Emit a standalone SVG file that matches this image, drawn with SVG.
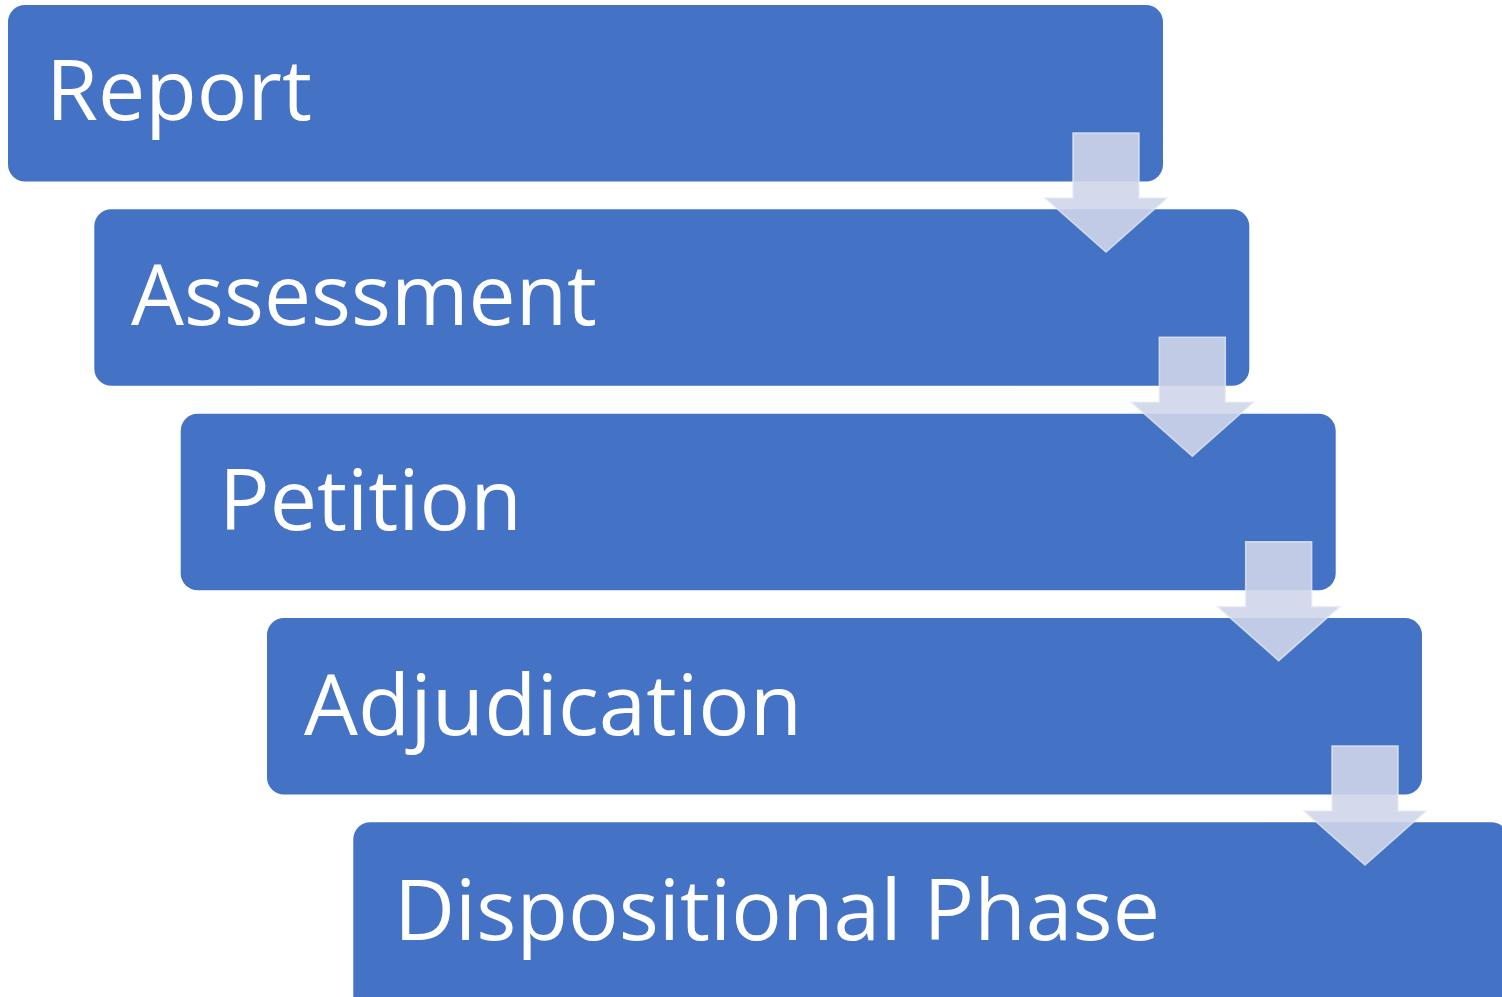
<svg xmlns="http://www.w3.org/2000/svg" width="1502" height="997" viewBox="0 0 1502 997">
<style>
.box{fill:#4472C4;}
.lbl{fill:#FFFFFF;font-family:"Open Sans","Noto Sans","Liberation Sans",sans-serif;font-size:84px;}
.arr{fill:#CFD5EA;fill-opacity:0.9;stroke:#E4E8F3;stroke-opacity:0.8;stroke-width:1.5;}
</style>
<defs>
<path id="arrow" d="M1073,133 H1139 V198 H1167 L1106,252 L1045,198 H1073 Z"/>
</defs>
<rect width="1502" height="997" fill="#FFFFFF"/>
<g id="node-report">
<rect class="box" x="8" y="5" width="1155" height="176.5" rx="17"/>
<text class="lbl" x="46" y="120" textLength="266" lengthAdjust="spacingAndGlyphs">Report</text>
</g>
<g id="node-assessment">
<rect class="box" x="94.3" y="209.3" width="1155" height="176.5" rx="17"/>
<text class="lbl" x="131" y="325" textLength="466" lengthAdjust="spacingAndGlyphs">Assessment</text>
</g>
<g id="node-petition">
<rect class="box" x="180.7" y="413.7" width="1155" height="176.5" rx="17"/>
<text class="lbl" x="219" y="530" textLength="303" lengthAdjust="spacingAndGlyphs">Petition</text>
</g>
<g id="node-adjudication">
<rect class="box" x="267" y="618" width="1155" height="176.5" rx="17"/>
<text class="lbl" x="304" y="735" textLength="498" lengthAdjust="spacingAndGlyphs">Adjudication</text>
</g>
<g id="node-dispositional">
<rect class="box" x="353.3" y="822.3" width="1155" height="190" rx="17"/>
<text class="lbl" x="394" y="940" textLength="766" lengthAdjust="spacingAndGlyphs">Dispositional Phase</text>
</g>
<g id="connectors">
<use href="#arrow" class="arr"/>
<use href="#arrow" class="arr" transform="translate(86.33,204.33)"/>
<use href="#arrow" class="arr" transform="translate(172.67,408.67)"/>
<use href="#arrow" class="arr" transform="translate(259,613)"/>
</g>
</svg>
